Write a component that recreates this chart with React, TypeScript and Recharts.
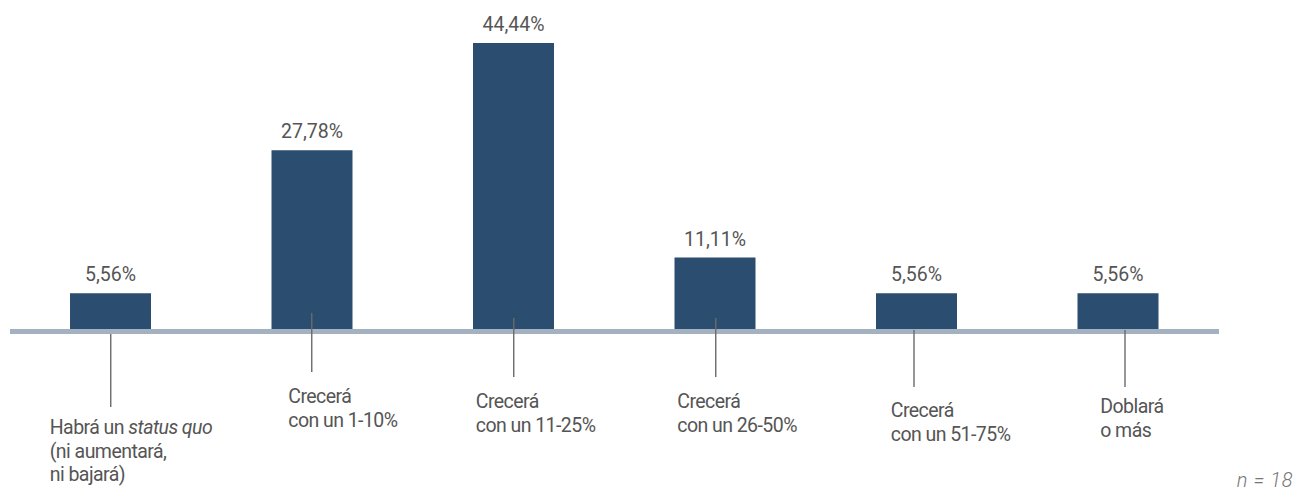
import React from 'react';
import { BarChart, Bar, XAxis, YAxis, LabelList, ReferenceLine } from 'recharts';

// ---- data ----
const CATEGORIES = ['status quo', '1-10%', '11-25%', '26-50%', '51-75%', 'dobla'];
const CATEGORY_LINES: string[][] = [
  ['Habrá un _status quo_', '(ni aumentará,', 'ni bajará)'],
  ['Crecerá', 'con un 1-10%'],
  ['Crecerá', 'con un 11-25%'],
  ['Crecerá', 'con un 26-50%'],
  ['Crecerá', 'con un 51-75%'],
  ['Doblará', 'o más'],
];
const VALUES = [5.56, 27.78, 44.44, 11.11, 5.56, 5.56];
const VALUE_LABELS = ['5,56%', '27,78%', '44,44%', '11,11%', '5,56%', '5,56%'];
const SAMPLE_NOTE = 'n = 18';

const data = CATEGORIES.map((c, i) => ({ category: c, value: VALUES[i], label: VALUE_LABELS[i] }));

// ---- layout / style ----
const W = 1298;
const H = 492;
const BAR_COLOR = '#2b4d6f';
const AXIS_COLOR = '#a3b1c0';
const TEXT_COLOR = '#555555';
const LEADER_COLOR = '#6b6b6b';
const FONT = 'Roboto, "Noto Sans", sans-serif';
const LINE_HEIGHT = 23.6;

const TICK_LAYOUT = [
  { lineDx: 0, lineTop: 5, lineBottom: 78, textDx: -61, textDy: 105 },
  { lineDx: -0.5, lineTop: -16, lineBottom: 43, textDx: -24, textDy: 74 },
  { lineDx: 0, lineTop: -11, lineBottom: 48, textDx: -38, textDy: 79 },
  { lineDx: 0.5, lineTop: -11, lineBottom: 48, textDx: -38, textDy: 79 },
  { lineDx: -2.75, lineTop: 1, lineBottom: 58, textDx: -26, textDy: 88 },
  { lineDx: 6.75, lineTop: 1, lineBottom: 58, textDx: -18, textDy: 84 },
];

function renderSegments(line: string) {
  const parts = line.split('_');
  return parts.map((p, i) => (
    <tspan key={i} fontStyle={i % 2 === 1 ? 'italic' : 'normal'}>
      {p}
    </tspan>
  ));
}

const CategoryTick = (props: any) => {
  const { x, y, payload } = props;
  const idx = CATEGORIES.indexOf(payload.value);
  const lay = TICK_LAYOUT[idx] || TICK_LAYOUT[0];
  const lines = CATEGORY_LINES[idx] || [];
  return (
    <g>
      <line
        x1={x + lay.lineDx}
        x2={x + lay.lineDx}
        y1={y + lay.lineTop}
        y2={y + lay.lineBottom}
        stroke={LEADER_COLOR}
        strokeWidth={1.4}
      />
      <text
        x={x + lay.textDx}
        y={y + lay.textDy}
        fill={TEXT_COLOR}
        fontFamily={FONT}
        fontSize={19.5}
        letterSpacing={-0.55}
        textAnchor="start"
      >
        {lines.map((ln, i) => (
          <tspan key={i} x={x + lay.textDx} dy={i === 0 ? 0 : LINE_HEIGHT}>
            {renderSegments(ln)}
          </tspan>
        ))}
      </text>
    </g>
  );
};

const ValueLabel = (props: any) => {
  const { x, y, width, index } = props;
  return (
    <text
      x={x + width / 2}
      y={y - 12}
      textAnchor="middle"
      fill={TEXT_COLOR}
      fontFamily={FONT}
      fontSize={19.5}
    >
      {VALUE_LABELS[index]}
    </text>
  );
};

const AxisBaseline = (props: any) => {
  const { x1, x2, y1 } = props;
  return <line x1={x1} x2={x2} y1={y1 + 2.5} y2={y1 + 2.5} stroke={AXIS_COLOR} strokeWidth={5} />;
};

export default function App() {
  return (
    <div style={{ position: 'absolute', left: 0, top: 0, width: W, height: H, background: '#fff' }}>
      <BarChart
        width={W}
        height={H}
        data={data}
        margin={{ top: 43, right: 79, left: 10, bottom: 13 }}
        barSize={81}
      >
        <YAxis hide domain={[0, 'dataMax']} />
        <Bar dataKey="value" fill={BAR_COLOR} isAnimationActive={false}>
          <LabelList dataKey="label" content={<ValueLabel />} />
        </Bar>
        <ReferenceLine y={0} shape={<AxisBaseline />} />
        <XAxis
          dataKey="category"
          axisLine={false}
          tickLine={false}
          tickSize={0}
          tickMargin={0}
          height={150}
          interval={0}
          tick={<CategoryTick />}
        />
      </BarChart>
      <svg width={W} height={H} style={{ position: 'absolute', left: 0, top: 0, pointerEvents: 'none' }}>
        <text
          x={1293}
          y={487}
          textAnchor="end"
          fill="#777777"
          fontFamily={FONT}
          fontSize={20}
          letterSpacing={0.6}
          fontStyle="italic"
          fontWeight={300}
        >
          {SAMPLE_NOTE}
        </text>
      </svg>
    </div>
  );
}
